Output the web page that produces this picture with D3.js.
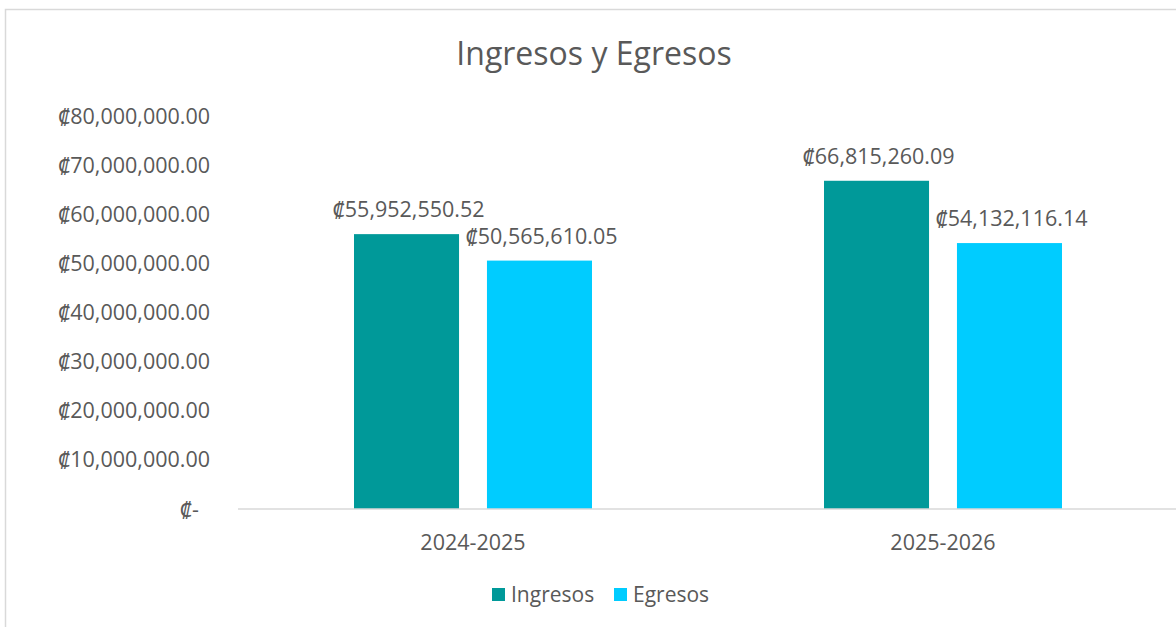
<!DOCTYPE html>
<html><head><meta charset="utf-8">
<script src="https://cdn.jsdelivr.net/npm/d3@7"></script>
<style>body{margin:0;background:#fff;} text{font-family:"Open Sans","Noto Sans",sans-serif;fill:#595959;}</style>
</head><body><svg id="c" width="1176" height="627"></svg>
<script>
const categories = ["2024-2025", "2025-2026"];
const seriesNames = ["Ingresos", "Egresos"];
const ingresos = [55952550.52, 66815260.09];
const egresos = [50565610.05, 54132116.14];
const yTicks = [0, 10000000, 20000000, 30000000, 40000000, 50000000, 60000000, 70000000, 80000000];
const colors = ["#009999", "#00CCFF"];

const svg = d3.select("#c");
svg.append("rect").attr("x",5.5).attr("y",9.5).attr("width",1200).attr("height",700)
  .attr("fill","#fff").attr("stroke","#d9d9d9").attr("stroke-width",1.5);

const x0 = d3.scaleBand().domain(categories).range([238,1178]).paddingInner(0).paddingOuter(0);
const x1 = d3.scaleBand().domain(seriesNames).range([116, 470-116]).paddingInner(0.21).paddingOuter(0);
const y = d3.scaleLinear().domain([0,80000000]).range([509,116]);

const fmt = v => v === 0 ? "₡-" : "₡" + d3.format(",.2f")(v);

svg.append("text").attr("x",594).attr("y",65).attr("text-anchor","middle")
  .style("font-size","32px").text("Ingresos y Egresos");

const yAxis = svg.append("g");
yAxis.selectAll("text").data(yTicks).join("text")
  .attr("x", d => d === 0 ? 199 : 210).attr("y", d => y(d)).attr("dy","0.35em")
  .attr("text-anchor","end").style("font-size","21.5px").text(fmt);

const data = categories.map((c,i)=>({cat:c, vals:[{s:"Ingresos",v:ingresos[i],c:colors[0]},{s:"Egresos",v:egresos[i],c:colors[1]}]}));
const groups = svg.selectAll("g.grp").data(data).join("g").attr("class","grp")
  .attr("transform", d=>`translate(${x0(d.cat)},0)`);
groups.selectAll("rect").data(d=>d.vals).join("rect")
  .attr("x", d=>x1(d.s)).attr("width", x1.bandwidth())
  .attr("y", d=>y(d.v)).attr("height", d=>y(0)-y(d.v)).attr("fill", d=>d.c);
groups.selectAll("text").data(d=>d.vals).join("text")
  .attr("x", d=>x1(d.s)+x1.bandwidth()/2+2).attr("y", d=>y(d.v)-17)
  .attr("text-anchor","middle").style("font-size","21.5px").text(d=>fmt(d.v));

svg.append("line").attr("x1",238).attr("x2",1176).attr("y1",509).attr("y2",509)
  .attr("stroke","#d9d9d9").attr("stroke-width",1.5);

svg.selectAll("text.cat").data(categories).join("text").attr("class","cat")
  .attr("x", d=>x0(d)+x0.bandwidth()/2).attr("y",550).attr("text-anchor","middle")
  .style("font-size","21.5px").text(d=>d);

const legX = [492, 614];
const leg = svg.selectAll("g.leg").data(seriesNames).join("g").attr("class","leg")
  .attr("transform",(d,i)=>`translate(${legX[i]},588)`);
leg.append("rect").attr("width",13).attr("height",13).attr("fill",(d,i)=>colors[i]);
leg.append("text").attr("x",19).attr("y",7).attr("dy","0.35em").style("font-size","21px").text(d=>d);
</script></body></html>
